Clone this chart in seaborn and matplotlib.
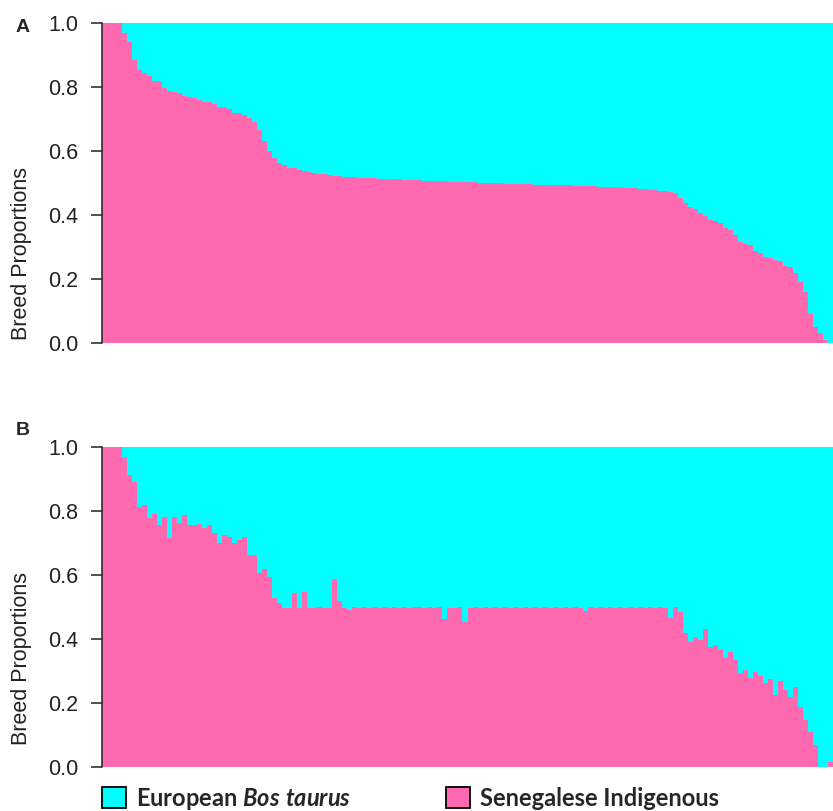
import numpy as np
import pandas as pd
import matplotlib.pyplot as plt
import seaborn as sns
from matplotlib.patches import Patch

# Senegalese Indigenous proportion of each animal (sorted).
# The European Bos taurus proportion is the remainder (1 - value).
senegalese_a = [
    1.0, 1.0, 1.0, 1.0, 0.97, 0.94, 0.884, 0.853, 0.845, 0.834,
    0.82, 0.818, 0.797, 0.786, 0.785, 0.782, 0.772, 0.77, 0.766, 0.76,
    0.754, 0.752, 0.746, 0.738, 0.736, 0.73, 0.72, 0.718, 0.712, 0.703,
    0.69, 0.666, 0.63, 0.6, 0.578, 0.562, 0.556, 0.548, 0.546, 0.54,
    0.537, 0.535, 0.532, 0.528, 0.527, 0.525, 0.523, 0.521, 0.52, 0.519,
    0.518, 0.517, 0.517, 0.516, 0.515, 0.514, 0.513, 0.512, 0.511, 0.511,
    0.51, 0.51, 0.509, 0.508, 0.507, 0.507, 0.506, 0.505, 0.505, 0.504,
    0.504, 0.503, 0.503, 0.502, 0.502, 0.501, 0.5, 0.5, 0.499, 0.499,
    0.498, 0.498, 0.497, 0.497, 0.496, 0.496, 0.495, 0.495, 0.495, 0.494,
    0.494, 0.494, 0.493, 0.493, 0.492, 0.492, 0.491, 0.491, 0.49, 0.489,
    0.489, 0.488, 0.487, 0.486, 0.485, 0.484, 0.483, 0.482, 0.481, 0.479,
    0.478, 0.476, 0.474, 0.472, 0.468, 0.452, 0.437, 0.425, 0.42, 0.405,
    0.398, 0.385, 0.38, 0.376, 0.36, 0.352, 0.337, 0.315, 0.31, 0.305,
    0.286, 0.28, 0.27, 0.266, 0.26, 0.256, 0.24, 0.236, 0.22, 0.19,
    0.16, 0.09, 0.05, 0.03, 0.008, 0.0,
]

senegalese_b = [
    1.0, 1.0, 1.0, 1.0, 0.97, 0.912, 0.89, 0.813, 0.819, 0.778,
    0.791, 0.756, 0.782, 0.716, 0.782, 0.762, 0.787, 0.756, 0.756, 0.76,
    0.746, 0.756, 0.731, 0.699, 0.725, 0.72, 0.70, 0.71, 0.72, 0.662,
    0.662, 0.605, 0.62, 0.595, 0.528, 0.512, 0.498, 0.498, 0.544, 0.498,
    0.547, 0.498, 0.498, 0.50, 0.498, 0.498, 0.588, 0.52, 0.498, 0.49,
    0.499, 0.498, 0.50, 0.498, 0.499, 0.498, 0.499, 0.498, 0.499, 0.498,
    0.499, 0.498, 0.499, 0.50, 0.498, 0.499, 0.498, 0.499, 0.461, 0.498,
    0.498, 0.499, 0.453, 0.498, 0.499, 0.498, 0.499, 0.498, 0.499, 0.498,
    0.499, 0.498, 0.499, 0.498, 0.499, 0.498, 0.499, 0.498, 0.499, 0.498,
    0.499, 0.498, 0.499, 0.498, 0.499, 0.498, 0.486, 0.499, 0.498, 0.499,
    0.498, 0.499, 0.498, 0.499, 0.498, 0.499, 0.498, 0.499, 0.498, 0.499,
    0.498, 0.499, 0.498, 0.465, 0.499, 0.485, 0.42, 0.392, 0.407, 0.397,
    0.431, 0.376, 0.38, 0.366, 0.34, 0.36, 0.334, 0.294, 0.303, 0.278,
    0.298, 0.285, 0.262, 0.274, 0.225, 0.27, 0.24, 0.22, 0.249, 0.188,
    0.147, 0.11, 0.07, 0.0, 0.0, 0.017,
]

panel_letters = ["A", "B"]
breeds = ["European Bos taurus", "Senegalese Indigenous"]
cyan = "#00FFFF"
pink = "#FF69B0"

sns.set_style("ticks")
plt.rcParams["font.family"] = ["Liberation Sans", "DejaVu Sans"]
plt.rcParams["mathtext.fontset"] = "custom"
plt.rcParams["mathtext.it"] = "Lato:italic:bold"
plt.rcParams["mathtext.rm"] = "Lato:bold"

fig = plt.figure(figsize=(8.33, 8.11), dpi=100)
W, H = 833, 811
ax_a = fig.add_axes([102 / W, (H - 343) / H, 731 / W, 320 / H])
ax_b = fig.add_axes([102 / W, (H - 767) / H, 731 / W, 320 / H])


def draw_panel(ax, values, label_y):
    df = pd.DataFrame({"animal": np.arange(len(values)), "senegalese": values})
    df["european"] = 1 - df["senegalese"]
    df["total"] = df["senegalese"] + df["european"]
    # stacked bars: full height in cyan, Senegalese share in pink on top
    sns.barplot(data=df, x="animal", y="total", color=cyan, saturation=1,
                width=1, linewidth=0, errorbar=None, antialiased=False, ax=ax)
    sns.barplot(data=df, x="animal", y="senegalese", color=pink, saturation=1,
                width=1, linewidth=0, errorbar=None, antialiased=False, ax=ax)
    ax.set_xlim(-0.5, len(values) - 0.5)
    ax.set_ylim(0, 1)
    ax.set_xticks([])
    ax.set_xlabel("")
    ax.set_yticks(np.arange(0, 1.01, 0.2))
    ax.set_yticklabels([f"{v:.1f}" for v in np.arange(0, 1.01, 0.2)])
    ax.tick_params(axis="y", length=8, width=1.1, pad=9, labelsize=15.5,
                   colors="#222222")
    for side in ["top", "right", "bottom"]:
        ax.spines[side].set_visible(False)
    ax.spines["left"].set_linewidth(1.1)
    ax.spines["left"].set_color("#222222")
    ax.set_ylabel("Breed Proportions", fontsize=15.5, color="#222222")
    ax.yaxis.set_label_coords(-0.096, label_y)


draw_panel(ax_a, senegalese_a, 0.28)
draw_panel(ax_b, senegalese_b, 0.34)

fig.text(16 / W, 1 - 32 / H, panel_letters[0], fontsize=14, fontweight="bold")
fig.text(16 / W, 1 - 435 / H, panel_letters[1], fontsize=14, fontweight="bold")

handles = [
    Patch(facecolor=cyan, edgecolor="black", linewidth=1.3,
          label=r"European $\mathit{Bos\ taurus}$"),
    Patch(facecolor=pink, edgecolor="black", linewidth=1.3, label=breeds[1]),
]
fig.legend(handles=handles, loc="center left", bbox_to_anchor=(102 / W, 12 / H),
           ncol=2, frameon=False, prop={"family": "Lato", "weight": "bold", "size": 17},
           handlelength=1.0, handleheight=1.0, handletextpad=0.45,
           columnspacing=4.0, borderpad=0, borderaxespad=0)

fig.savefig("out.png", dpi=100)
